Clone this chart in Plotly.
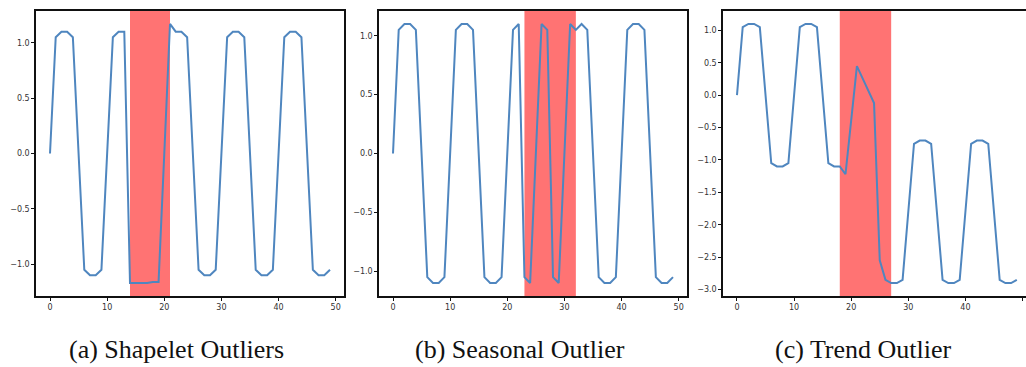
import plotly.graph_objects as go

t = list(range(50))

shapelet = [0, 1.05, 1.1, 1.1, 1.05, 0, -1.05, -1.1, -1.1, -1.05,
            0, 1.05, 1.1, 1.1, -1.17, -1.17, -1.17, -1.17, -1.16, -1.16,
            0, 1.17, 1.1, 1.1, 1.05, 0, -1.05, -1.1, -1.1, -1.05,
            0, 1.05, 1.1, 1.1, 1.05, 0, -1.05, -1.1, -1.1, -1.05,
            0, 1.05, 1.1, 1.1, 1.05, 0, -1.05, -1.1, -1.1, -1.05]

seasonal = [0, 1.05, 1.1, 1.1, 1.05, 0, -1.05, -1.1, -1.1, -1.05,
            0, 1.05, 1.1, 1.1, 1.05, 0, -1.05, -1.1, -1.1, -1.05,
            0, 1.05, 1.1, -1.05, -1.1, 0, 1.1, 1.05, -1.05, -1.1,
            0, 1.1, 1.05, 1.1, 1.05, 0, -1.05, -1.1, -1.1, -1.05,
            0, 1.05, 1.1, 1.1, 1.05, 0, -1.05, -1.1, -1.1, -1.05]

trend = [0, 1.05, 1.1, 1.1, 1.05, 0, -1.05, -1.1, -1.1, -1.05,
         0, 1.05, 1.1, 1.1, 1.05, 0, -1.05, -1.1, -1.1, -1.22,
         -0.4, 0.45, 0.26, 0.07, -0.12, -2.55, -2.85, -2.9, -2.9, -2.85,
         -1.8, -0.75, -0.7, -0.7, -0.75, -1.8, -2.85, -2.9, -2.9, -2.85,
         -1.8, -0.75, -0.7, -0.7, -0.75, -1.8, -2.85, -2.9, -2.9, -2.85]

spans = [(14, 21), (23, 32), (18, 27)]
captions = ["(a) Shapelet Outliers", "(b) Seasonal Outlier", "(c) Trend Outlier"]
x_ticks = [0, 10, 20, 30, 40, 50]
y_ticks_12 = [-1.0, -0.5, 0.0, 0.5, 1.0]
y_ticks_3 = [-3.0, -2.5, -2.0, -1.5, -1.0, -0.5, 0.0, 0.5, 1.0]

W, H = 1026, 367
series = [shapelet, seasonal, trend]
xdom = [(36 / W, 344 / W), (379 / W, 687 / W), (723 / W, 1.0)]
ydom = (1 - 296 / H, 1 - 11 / H)
xranges = [[-2.45, 51.45], [-2.45, 51.45], [-2.45, (1026 - 736) / 5.73]]
yranges = [[-1.287, 1.287], [-1.21, 1.21], [-3.1, 1.3]]
yticks = [y_ticks_12, y_ticks_12, y_ticks_3]
cap_x = [176, 520, 863]


def fmt(v):
    s = f"{abs(v):.1f}"
    return ("\u2212" + s) if v < 0 else s


fig = go.Figure()
tickfont = dict(family="DejaVu Sans", size=8, color="#333")
for i in range(3):
    sfx = "" if i == 0 else str(i + 1)
    fig.add_trace(go.Scatter(x=t, y=series[i], mode="lines",
                             line=dict(color="#4f86bf", width=2),
                             xaxis="x" + sfx, yaxis="y" + sfx, showlegend=False))
    fig.update_layout(**{
        "xaxis" + sfx: dict(domain=list(xdom[i]), range=xranges[i], anchor="y" + sfx,
                            showgrid=False, zeroline=False, showline=True, linecolor="#111",
                            linewidth=1.5, mirror=True, ticks="outside", ticklen=3,
                            tickcolor="#111", tickvals=x_ticks,
                            ticktext=[str(v) for v in x_ticks], tickfont=tickfont),
        "yaxis" + sfx: dict(domain=list(ydom), range=yranges[i], anchor="x" + sfx,
                            showgrid=False, zeroline=False, showline=True, linecolor="#111",
                            linewidth=1.5, mirror=(i < 2), ticks="outside", ticklen=3,
                            tickcolor="#111", tickvals=yticks[i],
                            ticktext=[fmt(v) for v in yticks[i]], tickfont=tickfont),
    })
    a, b = spans[i]
    fig.add_shape(type="rect", xref="x" + sfx, yref="y" + sfx + " domain",
                  x0=a, x1=b, y0=0, y1=1, fillcolor="rgba(255,0,0,0.55)",
                  line=dict(width=0), layer="below")
    fig.add_annotation(text=captions[i], xref="paper", yref="paper",
                       x=cap_x[i] / W, y=1 - 349 / H, showarrow=False,
                       xanchor="center", yanchor="middle",
                       font=dict(family="Liberation Serif", size=26, color="#111"))

fig.update_layout(width=W, height=H, margin=dict(l=0, r=0, t=0, b=0),
                  paper_bgcolor="white", plot_bgcolor="white")
fig.write_html("out.html")
